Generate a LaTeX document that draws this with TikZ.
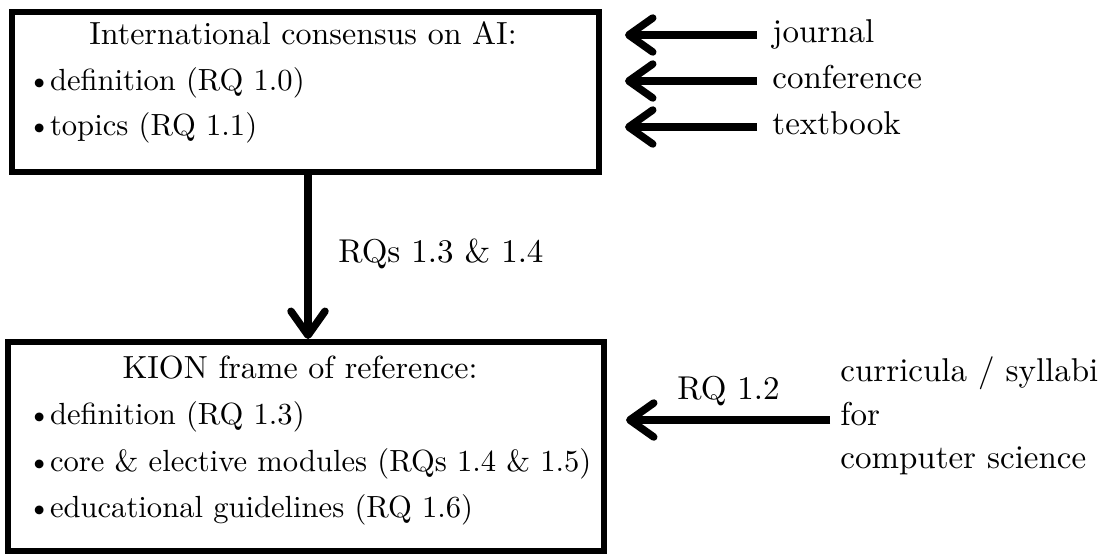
\documentclass[tikz,border=0pt]{standalone}
\usepackage{graphicx}
\usetikzlibrary{arrows.meta}
% text is set at the 10pt design size and enlarged
\newcommand{\lbl}[1]{\scalebox{1.65}{#1}}
\newcommand{\ttl}[1]{\scalebox{1.6}{#1}}
\newcommand{\itm}[1]{\scalebox{1.53}{\makebox[7.4pt][l]{\textbullet}#1}}
\begin{document}
\begin{tikzpicture}[x=0.5pt,y=-0.5pt,
  box/.style={draw, line width=3pt, rectangle, inner sep=0pt},
  txt/.style={inner sep=0pt, font=\fontsize{10}{12}\selectfont},
  item/.style={txt, anchor=base west},
  flow/.style={line width=3.75pt, -{Straight Barb[length=12pt,width=17pt,round]}},
]
\useasboundingbox (0,0) rectangle (1112,557);

% upper box: international consensus
\node[box, minimum width=293.5pt, minimum height=80.25pt] (top) at (305.5,91.75) {};
\node[txt, anchor=base] (toptitle) at (303,44) {\ttl{International consensus on AI:}};
\node[item] (top1) at (27,90) {\itm{definition (RQ 1.0)}};
\node[item] (top2) at (27,135) {\itm{topics (RQ 1.1)}};

% sources
\node[item] (journal) at (772,42) {\lbl{journal}};
\node[item] (conf) at (772,88) {\lbl{conference}};
\node[item] (book) at (772,134) {\lbl{textbook}};

% lower box: KION frame of reference
\node[box, minimum width=298pt, minimum height=104.5pt] (bot) at (306,446.5) {};
\node[txt, anchor=base] (bottitle) at (300,378) {\ttl{KION frame of reference:}};
\node[item] (bot1) at (27,424) {\itm{definition (RQ 1.3)}};
\node[item] (bot2) at (27,471) {\itm{core \& elective modules (RQs 1.4 \& 1.5)}};
\node[item] (bot3) at (27,517) {\itm{educational guidelines (RQ 1.6)}};

% curricula
\node[item] (curr) at (840,381) {\lbl{curricula / syllabi}};
\node[item] (for) at (840,425) {\lbl{for}};
\node[item] (cs) at (840,468) {\lbl{computer science}};

% connectors
\foreach \src in {journal, conf, book}
  \draw[flow, shorten >=11.5pt]
    ([xshift=-7.5pt, yshift=3.5pt]\src.base west) -- ([yshift=3.5pt]\src.base west -| top.east);

\draw[flow] ([xshift=1.25pt]top.south) -- ([xshift=1.25pt]top.south |- bot.north);
\node[item] (rq34) at (338,262) {\lbl{RQs 1.3 \& 1.4}};

\draw[flow, shorten >=9.5pt]
  ([xshift=-5pt, yshift=2.5pt]for.base west) -- ([yshift=2.5pt]for.base west -| bot.east);
\node[item] (rq12) at (677,399) {\lbl{RQ 1.2}};
\end{tikzpicture}
\end{document}
